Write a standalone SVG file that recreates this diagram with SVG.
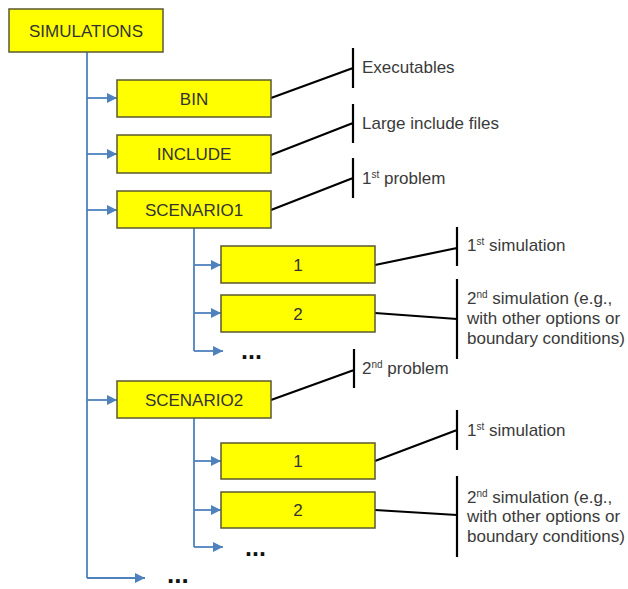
<svg xmlns="http://www.w3.org/2000/svg" width="628" height="589" viewBox="0 0 628 589">
<defs>
<style>
.box{fill:#ffff00;stroke:#5a5a30;stroke-width:1.5}
.lbl{font-family:"Liberation Sans",Arial,sans-serif;font-size:17px;fill:#333;text-anchor:middle}
.note{font-family:"Liberation Sans",Arial,sans-serif;font-size:17px;fill:#3a3a3a}
.sup{font-size:10px}
.blue{fill:none;stroke:#4f81bd;stroke-width:1.8}
.blk{fill:none;stroke:#000;stroke-width:2.2}
.dots{font-family:"Liberation Sans",Arial,sans-serif;font-weight:bold;fill:#111}
</style>
<marker id="ah" viewBox="0 0 10 10" refX="10" refY="5" markerWidth="10" markerHeight="10" markerUnits="userSpaceOnUse" orient="auto">
<path d="M0,0 L10,5 L0,10 z" fill="#4f81bd"/>
</marker>
</defs>
<rect width="628" height="589" fill="#fff"/>
<g id="connectors">
<path class="blue" d="M87,52 V578"/>
<path class="blue" d="M87,98 H117" marker-end="url(#ah)"/>
<path class="blue" d="M87,154 H117" marker-end="url(#ah)"/>
<path class="blue" d="M87,210 H117" marker-end="url(#ah)"/>
<path class="blue" d="M87,400 H117" marker-end="url(#ah)"/>
<path class="blue" d="M87,578 H145" marker-end="url(#ah)"/>
<path class="blue" d="M194,228 V351"/>
<path class="blue" d="M194,265 H221" marker-end="url(#ah)"/>
<path class="blue" d="M194,313 H221" marker-end="url(#ah)"/>
<path class="blue" d="M194,351 H223" marker-end="url(#ah)"/>
<path class="blue" d="M194,418 V547"/>
<path class="blue" d="M194,461 H221" marker-end="url(#ah)"/>
<path class="blue" d="M194,510 H221" marker-end="url(#ah)"/>
<path class="blue" d="M194,547 H223" marker-end="url(#ah)"/>
<path class="blk" d="M271,98 L353,68 M353,48 V88"/>
<path class="blk" d="M271,155 L353,123 M353,104 V143"/>
<path class="blk" d="M271,210 L353,178 M353,158 V198"/>
<path class="blk" d="M375,265 L457,248 M457,227 V266"/>
<path class="blk" d="M375,313 L457,319 M457,279 V359"/>
<path class="blk" d="M271,400 L354,370 M354,349 V388"/>
<path class="blk" d="M375,461 L457,430 M457,410 V450"/>
<path class="blk" d="M375,510 L457,515 M457,476 V557"/>
</g>
<g id="simulations"><rect class="box" x="9" y="9" width="154" height="43"/><text class="lbl" x="86" y="36.5">SIMULATIONS</text></g>
<g id="bin"><rect class="box" x="117" y="80" width="154" height="37"/><text class="lbl" x="194" y="104.5">BIN</text></g>
<g id="include"><rect class="box" x="117" y="135" width="154" height="38"/><text class="lbl" x="194" y="160">INCLUDE</text></g>
<g id="scenario1"><rect class="box" x="117" y="191" width="154" height="37"/><text class="lbl" x="194" y="215.5">SCENARIO1</text></g>
<g id="s1-1"><rect class="box" x="221" y="246" width="154" height="37"/><text class="lbl" x="298" y="270.5">1</text></g>
<g id="s1-2"><rect class="box" x="221" y="295" width="154" height="37"/><text class="lbl" x="298" y="319.5">2</text></g>
<g id="s1-more"><text class="dots" x="241" y="359" font-size="25">...</text></g>
<g id="scenario2"><rect class="box" x="117" y="381" width="154" height="37"/><text class="lbl" x="194" y="405.5">SCENARIO2</text></g>
<g id="s2-1"><rect class="box" x="221" y="443" width="154" height="36"/><text class="lbl" x="298" y="467">1</text></g>
<g id="s2-2"><rect class="box" x="221" y="492" width="154" height="36"/><text class="lbl" x="298" y="516">2</text></g>
<g id="s2-more"><text class="dots" x="245" y="556" font-size="25">...</text></g>
<g id="root-more"><text class="dots" x="167" y="583" font-size="26">...</text></g>
<g id="notes">
<text class="note" x="362" y="73">Executables</text>
<text class="note" x="362" y="129">Large include files</text>
<text class="note" x="362" y="184">1<tspan class="sup" dy="-6">st</tspan><tspan dy="6"> problem</tspan></text>
<text class="note" x="467" y="251">1<tspan class="sup" dy="-6">st</tspan><tspan dy="6"> simulation</tspan></text>
<text class="note" x="467" y="304">2<tspan class="sup" dy="-6">nd</tspan><tspan dy="6"> simulation (e.g.,</tspan></text>
<text class="note" x="467" y="324">with other options or</text>
<text class="note" x="467" y="344">boundary conditions)</text>
<text class="note" x="362" y="374">2<tspan class="sup" dy="-6">nd</tspan><tspan dy="6"> problem</tspan></text>
<text class="note" x="467" y="436">1<tspan class="sup" dy="-6">st</tspan><tspan dy="6"> simulation</tspan></text>
<text class="note" x="467" y="503">2<tspan class="sup" dy="-6">nd</tspan><tspan dy="6"> simulation (e.g.,</tspan></text>
<text class="note" x="467" y="522">with other options or</text>
<text class="note" x="467" y="542">boundary conditions)</text>
</g>
</svg>
